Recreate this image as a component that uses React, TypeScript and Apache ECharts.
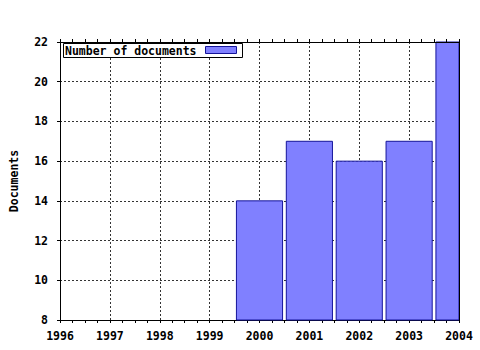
import React, { useEffect, useRef } from "react";
import * as echarts from "echarts";

const seriesName = "Number of documents";
const years = [2000, 2001, 2002, 2003, 2004];
const counts = [14, 17, 16, 17, 22];
const yAxisTitle = "Documents";

const FONT = "'DejaVu Sans Mono', 'Liberation Mono', monospace";
const BAR_FILL = "#8080ff";
const BAR_STROKE = "#14149a";

export default function App() {
  const ref = useRef<HTMLDivElement>(null);
  useEffect(() => {
    if (!ref.current) return;
    const chart = echarts.init(ref.current, null, { renderer: "svg" });
    const textStyle = { fontFamily: FONT, fontSize: 11.5, fontWeight: "bold" as const, color: "#000" };
    const gridLine = { show: true, lineStyle: { type: [2, 2], color: "#333", width: 1 } };
    chart.setOption({
      animation: false,
      backgroundColor: "#fff",
      grid: { left: 57, right: 21, top: 42, bottom: 30 },
      xAxis: [
        {
          type: "value",
          min: 1996,
          max: 2004,
          interval: 1,
          position: "bottom",
          axisLine: { show: true, lineStyle: { color: "#000", width: 1 } },
          axisTick: { show: true, length: 3, lineStyle: { color: "#000" } },
          minorTick: { show: true, splitNumber: 4, length: 3, lineStyle: { color: "#000" } },
          axisLabel: { ...textStyle, margin: 10, formatter: (v: number) => String(v) },
          splitLine: gridLine,
        },
        {
          type: "value",
          min: 1996,
          max: 2004,
          interval: 1,
          position: "top",
          z: 5,
          axisLine: { show: true, lineStyle: { color: "#000", width: 1 } },
          axisTick: { show: true, length: 3, lineStyle: { color: "#000" } },
          minorTick: { show: true, splitNumber: 4, length: 3, lineStyle: { color: "#000" } },
          axisLabel: { show: false },
          splitLine: { show: false },
        },
      ],
      yAxis: [
        {
          type: "value",
          min: 8,
          max: 22,
          interval: 2,
          position: "left",
          name: yAxisTitle,
          nameLocation: "middle",
          nameGap: 40,
          nameRotate: 90,
          nameTextStyle: { ...textStyle },
          axisLine: { show: true, lineStyle: { color: "#000", width: 1 } },
          axisTick: { show: true, length: 3, lineStyle: { color: "#000" } },
          axisLabel: { ...textStyle, margin: 12 },
          splitLine: gridLine,
        },
        {
          type: "value",
          min: 8,
          max: 22,
          interval: 2,
          position: "right",
          z: 5,
          axisLine: { show: true, lineStyle: { color: "#000", width: 1 } },
          axisTick: { show: false },
          axisLabel: { show: false },
          splitLine: { show: false },
        },
      ],
      series: [
        {
          type: "custom",
          name: seriesName,
          xAxisIndex: 0,
          yAxisIndex: 0,
          data: years.map((y, i) => [y, counts[i]]),
          renderItem: (params: any, api: any) => {
            const x = api.value(0);
            const v = api.value(1);
            const base = api.coord([x, 8]);
            const top = api.coord([x, v]);
            const w = api.size([1, 0])[0] * 0.925;
            const cs = params.coordSys;
            const shape = echarts.graphic.clipRectByRect(
              { x: top[0] - w / 2, y: top[1], width: w, height: base[1] - top[1] },
              { x: cs.x, y: cs.y, width: cs.width, height: cs.height }
            );
            if (!shape) return null;
            return {
              type: "rect",
              shape,
              style: { fill: BAR_FILL, stroke: BAR_STROKE, lineWidth: 1 },
            };
          },
        },
      ],
      graphic: [
        {
          type: "rect",
          z: 100,
          shape: { x: 63.5, y: 43.5, width: 179, height: 14 },
          style: { fill: "#fff", stroke: "#000", lineWidth: 1 },
        },
        {
          type: "text",
          z: 101,
          x: 65,
          y: 51,
          style: { text: seriesName, font: `bold 11.5px ${FONT}`, fill: "#000", verticalAlign: "middle", align: "left" },
        },
        {
          type: "rect",
          z: 101,
          shape: { x: 205.5, y: 46.5, width: 31, height: 7 },
          style: { fill: BAR_FILL, stroke: BAR_STROKE, lineWidth: 1 },
        },
      ],
    });
    return () => chart.dispose();
  }, []);
  return <div ref={ref} style={{ position: "absolute", left: 0, top: 0, width: 480, height: 350 }} />;
}
